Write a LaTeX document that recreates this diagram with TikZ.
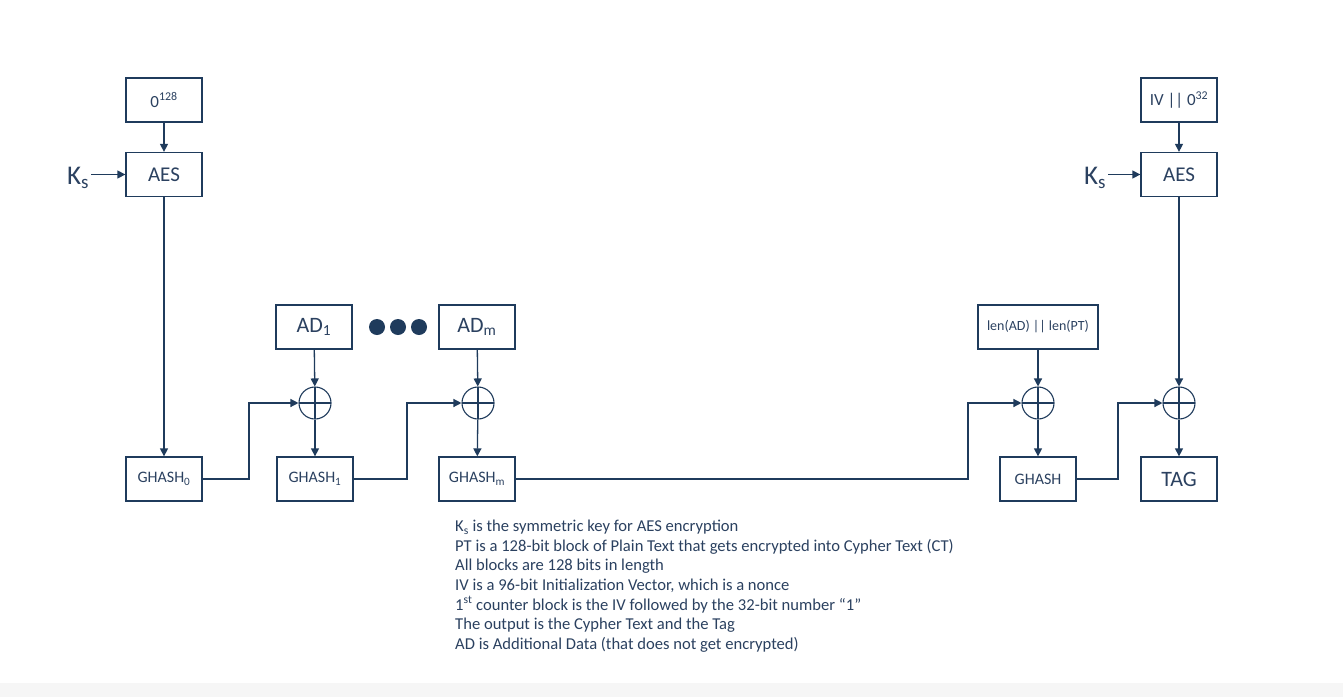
\documentclass[tikz,border=0pt]{standalone}
\usepackage{fontspec}
\setmainfont{Carlito}
\usetikzlibrary{arrows.meta}
\definecolor{navy}{HTML}{1F3B5C}
\definecolor{txt}{HTML}{2B4160}
\definecolor{band}{HTML}{F6F6F6}
\begin{document}
\begin{tikzpicture}[x=1pt,y=-1pt,
  blk/.style={draw=navy, line width=1.3pt, minimum width=76pt, minimum height=44pt, inner sep=0pt, text=txt, fill=white},
  xo/.style={circle, draw=navy, line width=1.1pt, minimum size=32pt, inner sep=0pt,
    path picture={\draw[navy,line width=1.1pt] (path picture bounding box.north) -- (path picture bounding box.south) (path picture bounding box.west) -- (path picture bounding box.east);}},
  con/.style={draw=navy, line width=1.3pt},
  arr/.style={con, -{Triangle[length=8pt,width=8pt]}},
  dot/.style={circle, fill=navy, minimum size=16pt, inner sep=0pt},
  big/.style={font=\fontsize{21}{24}\selectfont},
  ad/.style={font=\fontsize{22}{26}\selectfont},
  mid/.style={font=\fontsize{17}{20}\selectfont},
  gh/.style={font=\fontsize{16}{19}\selectfont},
  sml/.style={font=\fontsize{14}{17}\selectfont},
  key/.style={text=txt, inner sep=0pt, font=\fontsize{27}{30}\selectfont}]
\fill[white] (0,0) rectangle (1343,697);
\fill[band] (0,683) rectangle (1343,697);
\path[use as bounding box] (0,0) rectangle (1343,697);

% left column
\node[blk, mid] (z128) at (164,100) {0\textsuperscript{128}};
\node[blk, big] (aes1) at (164,174.5) {AES};
\node[key, anchor=west] (ks1) at (67,178) {K\textsubscript{s}};
% right column
\node[blk, mid] (iv) at (1179,100) {IV || 0\textsuperscript{32}};
\node[blk, big] (aes2) at (1179,174.5) {AES};
\node[key, anchor=west] (ks2) at (1084,178) {K\textsubscript{s}};

% AD blocks
\node[blk, ad] (ad1) at (314,327) {AD\textsubscript{1}};
\node[blk, ad] (adm) at (477,327) {AD\textsubscript{m}};
\node[dot] (d1) at (377,327) {};
\node[dot] (d2) at (398,327) {};
\node[dot] (d3) at (419,327) {};
\node[blk, sml, minimum width=120pt] (len) at (1038,327) {len(AD) || len(PT)};

% XORs
\node[xo] (x1) at (315,403) {};
\node[xo] (xm) at (478,403) {};
\node[xo] (x3) at (1038,403) {};
\node[xo] (x4) at (1179,403) {};

% GHASH row
\node[blk, gh] (g0) at (164,479) {GHASH\textsubscript{0}};
\node[blk, gh] (g1) at (315,479) {GHASH\textsubscript{1}};
\node[blk, gh] (gm) at (477,479) {GHASH\textsubscript{m}};
\node[blk, gh] (gh) at (1038,479) {GHASH};
\node[blk, font=\fontsize{22}{26}\selectfont] (tag) at (1179,479) {TAG};

% connectors
\draw[arr] (z128) -- (aes1);
\draw[arr] (iv) -- (aes2);
\draw[arr] (ks1.east |- aes1) ++(2,0) -- (aes1.west);
\draw[arr] (ks2.east |- aes2) ++(2,0) -- (aes2.west);
\draw[arr] (aes1) -- (g0);
\draw[arr] (aes2) -- (x4);
\draw[arr] (ad1) -- (x1);
\draw[arr] (x1) -- (g1);
\draw[arr] (adm) -- (xm);
\draw[arr] (xm) -- (gm);
\draw[arr] (len) -- (x3);
\draw[arr] (x3) -- (gh);
\draw[arr] (x4) -- (tag);
\draw[arr] (g0.east) -- (249,479) |- (x1.west);
\draw[arr] (g1.east) -- (407,479) |- (xm.west);
\draw[arr] (gm.east) -- (968,479) |- (x3.west);
\draw[arr] (gh.east) -- (1118,479) |- (x4.west);

% notes
\node[anchor=north west, align=left, text=txt, inner sep=0pt,
  font=\fontsize{16.6}{19.6}\selectfont] (notes) at (455,520) {%
K\textsubscript{s} is the symmetric key for AES encryption\\
PT is a 128-bit block of Plain Text that gets encrypted into Cypher Text (CT)\\
All blocks are 128 bits in length\\
IV is a 96-bit Initialization Vector, which is a nonce\\
1\textsuperscript{st} counter block is the IV followed by the 32-bit number “1”\\
The output is the Cypher Text and the Tag\\
AD is Additional Data (that does not get encrypted)};
\end{tikzpicture}
\end{document}
